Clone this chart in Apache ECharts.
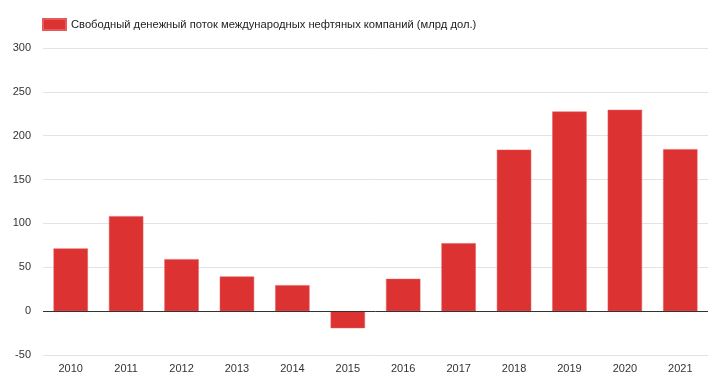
<!DOCTYPE html>
<html><head><meta charset="utf-8">
<script src="https://cdn.jsdelivr.net/npm/echarts@6/dist/echarts.min.js"></script>
<style>html,body{margin:0;padding:0;background:#fff}#c{width:719px;height:384px}</style>
</head><body><div id="c"></div>
<script>
const categories = ['2010','2011','2012','2013','2014','2015','2016','2017','2018','2019','2020','2021'];
const values = [71.5, 108.3, 59.3, 39.5, 29.6, -19.4, 36.8, 77.5, 184, 227.5, 229.5, 184.7];
const seriesName = 'Свободный денежный поток международных нефтяных компаний (млрд дол.)';
const chart = echarts.init(document.getElementById('c'), null, {renderer:'canvas'});
chart.setOption({
  animation:false,
  textStyle:{fontFamily:'"Liberation Sans", Arial, sans-serif'},
  legend:{left:42, top:18, padding:0, itemWidth:23, itemHeight:11, itemGap:5,
    textStyle:{fontSize:11.2, color:'#222', fontFamily:'"Liberation Sans", Arial, sans-serif'},
    data:[{name:seriesName, icon:'rect'}]},
  grid:{left:43, right:11, top:48, bottom:29, containLabel:false},
  xAxis:{type:'category', data:categories,
    axisLine:{show:false}, axisTick:{show:false},
    axisLabel:{color:'#333', fontSize:11, margin:8}},
  yAxis:{type:'value', min:-50, max:300, interval:50,
    axisLine:{show:false}, axisTick:{show:false},
    axisLabel:{color:'#333', fontSize:11, margin:12},
    splitLine:{lineStyle:{color:'#e3e3e3', width:1}}},
  series:[{name:seriesName, type:'bar', data:values, barWidth:'62%',
    itemStyle:{color:'#dc3232', borderColor:'#e55a5a', borderWidth:0.5},
    markLine:{silent:true, symbol:'none', label:{show:false},
      lineStyle:{color:'#333', width:1, type:'solid'}, data:[{yAxis:0}]}}]
});
</script></body></html>
